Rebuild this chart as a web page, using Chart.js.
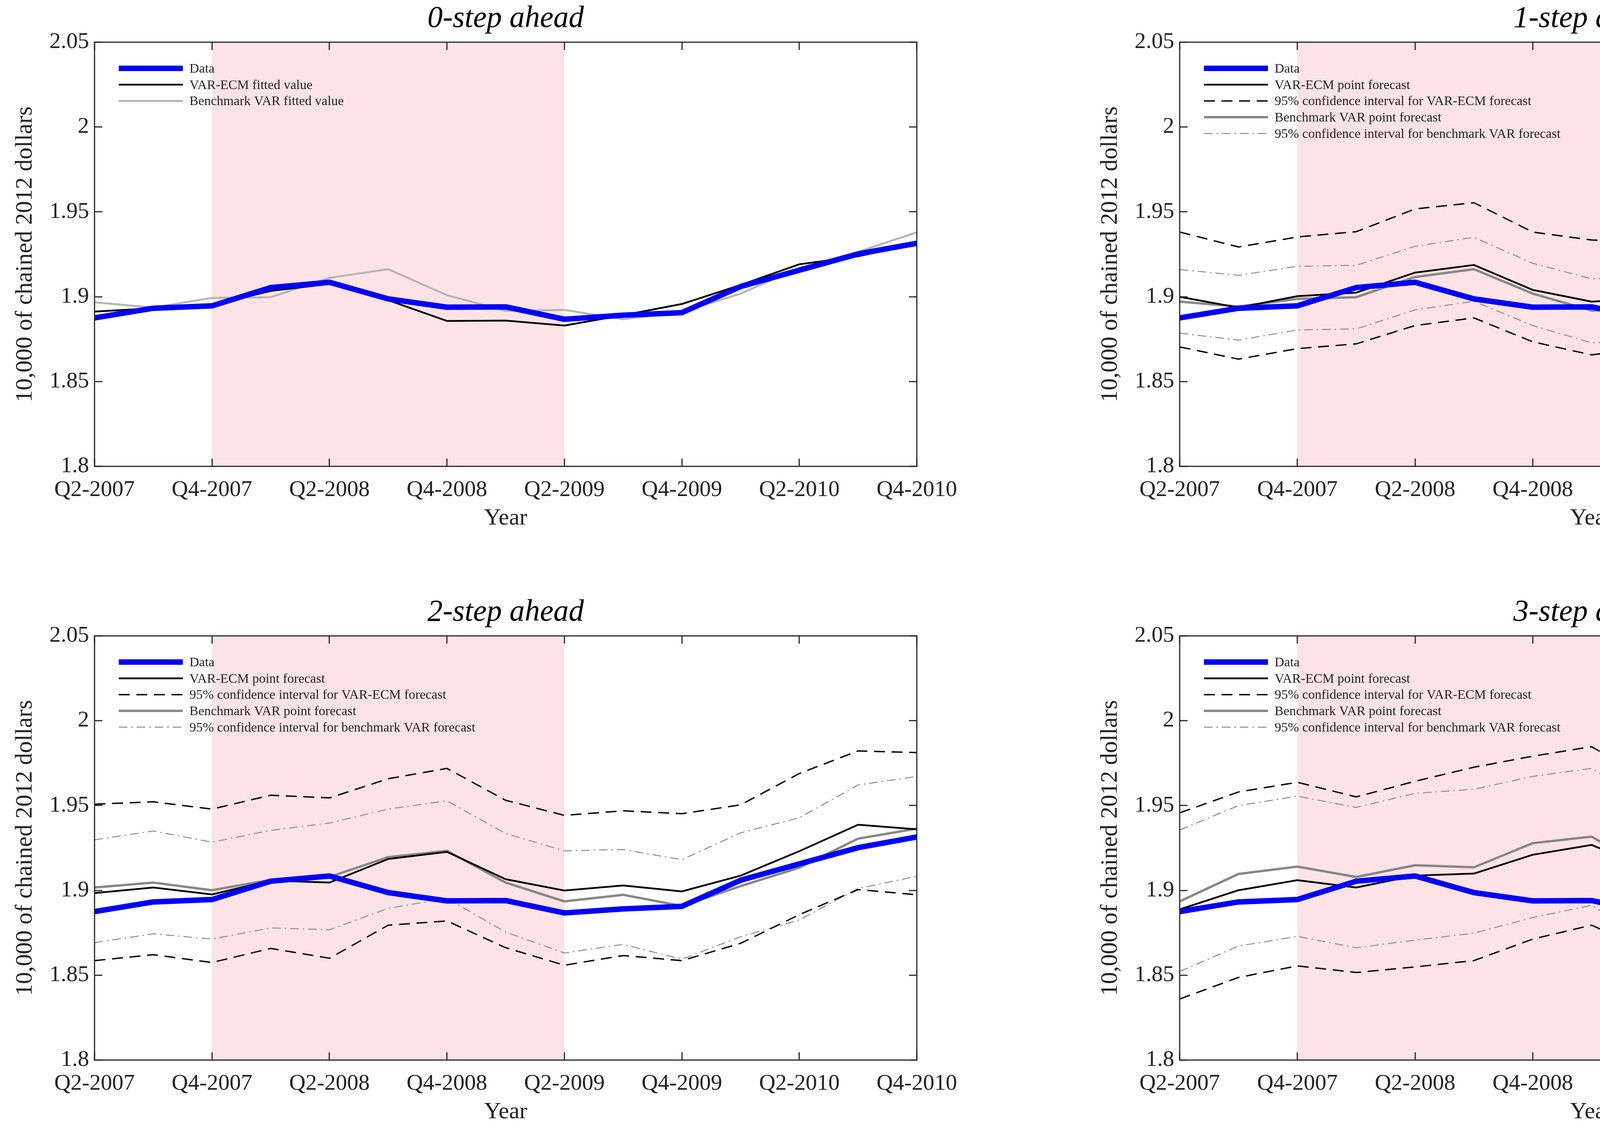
<!DOCTYPE html>
<html>
<head>
<meta charset="utf-8">
<script src="https://cdn.jsdelivr.net/npm/chart.js@4.4.1/dist/chart.umd.min.js"></script>
<style>
html,body{margin:0;padding:0;background:#fff;width:5273px;height:2911px;overflow:hidden}
.p{position:absolute}
</style>
</head>
<body>
<div class="p" id="w0" style="left:0px;top:0px;width:2636px;height:1391px"><canvas id="c0"></canvas></div>
<div class="p" id="w1" style="left:2778px;top:0px;width:2495px;height:1391px"><canvas id="c1"></canvas></div>
<div class="p" id="w2" style="left:0px;top:1520px;width:2636px;height:1391px"><canvas id="c2"></canvas></div>
<div class="p" id="w3" style="left:2778px;top:1520px;width:2495px;height:1391px"><canvas id="c3"></canvas></div>
<script>
// ---------- DATA ----------
const QUARTERS = ['Q2-2007','Q3-2007','Q4-2007','Q1-2008','Q2-2008','Q3-2008','Q4-2008','Q1-2009',
                  'Q2-2009','Q3-2009','Q4-2009','Q1-2010','Q2-2010','Q3-2010','Q4-2010'];
const TICK_LABELS = ['Q2-2007','Q4-2007','Q2-2008','Q4-2008','Q2-2009','Q4-2009','Q2-2010','Q4-2010'];
const RECESSION = ['Q4-2007','Q2-2009'];
const Y_MIN = 1.8, Y_MAX = 2.05, Y_STEP = 0.05;
const TITLES = ['0-step ahead','1-step ahead','2-step ahead','3-step ahead'];
const Y_TITLE = '10,000 of chained 2012 dollars';
const X_TITLE = 'Year';

const DATA = [1.8875,1.8932,1.8946,1.9054,1.9085,1.8987,1.8938,1.8940,1.8867,1.8891,1.8906,1.9060,1.9156,1.9252,1.9315];

// 0-step (fitted values)
const FIT_ECM = [1.8912,1.8932,1.8950,1.9034,1.9075,1.8979,1.8857,1.8859,1.8830,1.8891,1.8957,1.9069,1.9191,1.9238,1.9315];
const FIT_VAR = [1.8967,1.8936,1.8993,1.8997,1.9111,1.9162,1.9009,1.8916,1.8922,1.8867,1.8910,1.9018,1.9170,1.9264,1.9379];

// 1-step ahead
const H1_ECM    = [1.8999,1.8936,1.9003,1.9024,1.9142,1.9187,1.9040,1.8971,1.8991,1.8928,1.8985,1.9069,1.9248,1.9254,1.9355];
const H1_ECM_HI = [1.9381,1.9293,1.9352,1.9383,1.9517,1.9554,1.9381,1.9334,1.9324,1.9269,1.9320,1.9366,1.9580,1.9601,1.9688];
const H1_ECM_LO = [1.8704,1.8632,1.8694,1.8722,1.8830,1.8875,1.8734,1.8657,1.8700,1.8632,1.8683,1.8769,1.8963,1.8957,1.9054];
const H1_VAR    = [1.8971,1.8942,1.8987,1.8997,1.9116,1.9162,1.9018,1.8918,1.8928,1.8875,1.8938,1.9018,1.9170,1.9264,1.9379];
const H1_VAR_HI = [1.9160,1.9126,1.9179,1.9185,1.9297,1.9350,1.9197,1.9105,1.9126,1.9054,1.9126,1.9217,1.9364,1.9468,1.9574];
const H1_VAR_LO = [1.8785,1.8744,1.8804,1.8810,1.8922,1.8973,1.8830,1.8728,1.8744,1.8694,1.8759,1.8840,1.8983,1.9089,1.9191];

// 2-step ahead
const H2_ECM    = [1.8984,1.9017,1.8976,1.9058,1.9046,1.9185,1.9227,1.9066,1.8999,1.9029,1.8994,1.9087,1.9231,1.9387,1.9360];
const H2_ECM_HI = [1.9508,1.9522,1.9479,1.9561,1.9545,1.9658,1.9719,1.9531,1.9442,1.9469,1.9452,1.9504,1.9689,1.9822,1.9812];
const H2_ECM_LO = [1.8586,1.8621,1.8575,1.8658,1.8600,1.8795,1.8820,1.8662,1.8559,1.8616,1.8586,1.8688,1.8857,1.9005,1.8974];
const H2_VAR    = [1.9017,1.9046,1.9001,1.9062,1.9079,1.9196,1.9233,1.9046,1.8935,1.8974,1.8908,1.9025,1.9134,1.9305,1.9364];
const H2_VAR_HI = [1.9298,1.9350,1.9284,1.9354,1.9397,1.9479,1.9528,1.9335,1.9233,1.9241,1.9181,1.9339,1.9428,1.9621,1.9672];
const H2_VAR_LO = [1.8692,1.8744,1.8713,1.8779,1.8768,1.8894,1.8953,1.8754,1.8631,1.8682,1.8594,1.8727,1.8826,1.9011,1.9083];

// 3-step ahead
const H3_ECM    = [1.8888,1.9001,1.9060,1.9017,1.9087,1.9099,1.9210,1.9268,1.9124,1.9052,1.9109,1.9091,1.9216,1.9360,1.9500];
const H3_ECM_HI = [1.9457,1.9580,1.9637,1.9551,1.9643,1.9726,1.9791,1.9847,1.9648,1.9607,1.9631,1.9664,1.9732,1.9929,2.0048];
const H3_ECM_LO = [1.8360,1.8487,1.8555,1.8516,1.8549,1.8586,1.8713,1.8795,1.8641,1.8497,1.8569,1.8616,1.8668,1.8836,1.9005];
const H3_VAR    = [1.8935,1.9097,1.9140,1.9079,1.9148,1.9136,1.9278,1.9317,1.9114,1.8988,1.9036,1.8966,1.9128,1.9257,1.9401];
const H3_VAR_HI = [1.9356,1.9500,1.9555,1.9489,1.9572,1.9596,1.9672,1.9719,1.9514,1.9428,1.9432,1.9381,1.9576,1.9662,1.9847];
const H3_VAR_LO = [1.8522,1.8672,1.8729,1.8662,1.8707,1.8748,1.8840,1.8912,1.8697,1.8563,1.8625,1.8543,1.8692,1.8836,1.8980];

const LEG_FIT = ['Data','VAR-ECM fitted value','Benchmark VAR fitted value'];
const LEG_FC  = ['Data','VAR-ECM point forecast','95% confidence interval for VAR-ECM forecast',
                 'Benchmark VAR point forecast','95% confidence interval for benchmark VAR forecast'];

// ---------- STYLES ----------
const FONT = '"Liberation Serif", "Times New Roman", serif';
const S_DATA = {borderColor:'#0000ff', borderWidth:14};
const S_ECM  = {borderColor:'#000000', borderWidth:4.5};
const S_ECM_CI = {borderColor:'#000000', borderWidth:3.5, borderDash:[28,17]};
const S_VAR_FIT = {borderColor:'#b4b4b4', borderWidth:5};
const S_VAR  = {borderColor:'#878787', borderWidth:6};
const S_VAR_CI = {borderColor:'#8c8c8c', borderWidth:2.5, borderDash:[22,10,4,10]};

function ds(label, data, style, legend) {
  return Object.assign({label, data, fill:false, pointRadius:0, tension:0,
    borderJoinStyle:'round', borderCapStyle:'butt', showInLegendBox:legend}, style);
}

const panels = [
  [ds(LEG_FIT[0],DATA,S_DATA,true), ds(LEG_FIT[1],FIT_ECM,S_ECM,true), ds(LEG_FIT[2],FIT_VAR,S_VAR_FIT,true)],
  [ds(LEG_FC[0],DATA,S_DATA,true), ds(LEG_FC[1],H1_ECM,S_ECM,true), ds(LEG_FC[2],H1_ECM_HI,S_ECM_CI,true),
   ds(LEG_FC[3],H1_VAR,S_VAR,true), ds(LEG_FC[4],H1_VAR_HI,S_VAR_CI,true),
   ds(LEG_FC[2],H1_ECM_LO,S_ECM_CI,false), ds(LEG_FC[4],H1_VAR_LO,S_VAR_CI,false)],
  [ds(LEG_FC[0],DATA,S_DATA,true), ds(LEG_FC[1],H2_ECM,S_ECM,true), ds(LEG_FC[2],H2_ECM_HI,S_ECM_CI,true),
   ds(LEG_FC[3],H2_VAR,S_VAR,true), ds(LEG_FC[4],H2_VAR_HI,S_VAR_CI,true),
   ds(LEG_FC[2],H2_ECM_LO,S_ECM_CI,false), ds(LEG_FC[4],H2_VAR_LO,S_VAR_CI,false)],
  [ds(LEG_FC[0],DATA,S_DATA,true), ds(LEG_FC[1],H3_ECM,S_ECM,true), ds(LEG_FC[2],H3_ECM_HI,S_ECM_CI,true),
   ds(LEG_FC[3],H3_VAR,S_VAR,true), ds(LEG_FC[4],H3_VAR_HI,S_VAR_CI,true),
   ds(LEG_FC[2],H3_ECM_LO,S_ECM_CI,false), ds(LEG_FC[4],H3_VAR_LO,S_VAR_CI,false)]
];

// ---------- PLUGINS ----------
const shadePlugin = {
  id:'shade',
  beforeDatasetsDraw(chart) {
    const {ctx, chartArea:a, scales:{x}} = chart;
    const x0 = x.getPixelForValue(QUARTERS.indexOf(RECESSION[0]));
    const x1 = x.getPixelForValue(QUARTERS.indexOf(RECESSION[1]));
    ctx.save();
    ctx.fillStyle = 'rgb(253,227,229)';
    ctx.fillRect(x0, a.top, x1 - x0, a.bottom - a.top);
    ctx.restore();
  }
};

const framePlugin = {
  id:'frame',
  afterDraw(chart, args, opts) {
    const {ctx, chartArea:a, scales:{x, y}} = chart;
    ctx.save();
    ctx.strokeStyle = '#262626';
    ctx.lineWidth = 3;
    const TL = 20;
    ctx.beginPath();
    x.ticks.forEach((t, i) => {
      if (!TICK_LABELS.includes(QUARTERS[t.value])) return;
      const px = Math.round(x.getPixelForTick(i));
      ctx.moveTo(px, a.bottom); ctx.lineTo(px, a.bottom - TL);
      ctx.moveTo(px, a.top); ctx.lineTo(px, a.top + TL);
    });
    y.ticks.forEach((t, i) => {
      const py = Math.round(y.getPixelForTick(i));
      ctx.moveTo(a.left, py); ctx.lineTo(a.left + TL, py);
      ctx.moveTo(a.right, py); ctx.lineTo(a.right - TL, py);
    });
    ctx.stroke();
    ctx.strokeRect(a.left, a.top, a.right - a.left, a.bottom - a.top);

    // title
    ctx.fillStyle = '#000';
    ctx.font = 'italic 78px ' + FONT;
    ctx.textAlign = 'center';
    ctx.textBaseline = 'middle';
    ctx.fillText(opts.title, (a.left + a.right) / 2, a.top - 60);

    // legend
    ctx.font = '34px ' + FONT;
    ctx.textAlign = 'left';
    ctx.fillStyle = '#222';
    let row = 0;
    chart.data.datasets.forEach(d => {
      if (!d.showInLegendBox) return;
      const yy = a.top + 67 + row * 41.7;
      const lx = a.left + 62;
      ctx.save();
      ctx.strokeStyle = d.borderColor;
      ctx.lineWidth = d.borderWidth;
      ctx.setLineDash(d.borderDash || []);
      ctx.beginPath();
      ctx.moveTo(lx, yy); ctx.lineTo(lx + 164, yy);
      ctx.stroke();
      ctx.restore();
      ctx.fillText(d.label, lx + 181, yy + 2);
      row++;
    });
    ctx.restore();
  }
};

Chart.defaults.font.family = FONT;
Chart.defaults.color = '#222';

const layouts = [
  {right:289}, {right:144}, {right:289}, {right:144}
];

panels.forEach((datasets, k) => {
  new Chart(document.getElementById('c' + k), {
    type:'line',
    data:{labels:QUARTERS, datasets},
    plugins:[shadePlugin, framePlugin],
    options:{
      responsive:true, maintainAspectRatio:false, animation:false, devicePixelRatio:1,
      layout:{padding:{left:0, top:108, right:layouts[k].right, bottom:0}},
      plugins:{legend:{display:false}, tooltip:{enabled:false}, frame:{title:TITLES[k]}},
      scales:{
        x:{
          type:'category', offset:false,
          grid:{display:false, drawTicks:false}, border:{display:false},
          ticks:{autoSkip:false, maxRotation:0, minRotation:0, padding:26,
            font:{size:58}, color:'#222',
            callback(v){ const l = QUARTERS[v]; return TICK_LABELS.includes(l) ? l : ''; }},
          title:{display:true, text:X_TITLE, font:{size:60}, color:'#222', padding:{top:0,bottom:28}},
          afterFit(s){ s.height = 197; }
        },
        y:{
          min:Y_MIN, max:Y_MAX,
          grid:{display:false, drawTicks:false}, border:{display:false},
          ticks:{stepSize:Y_STEP, padding:14, font:{size:58}, color:'#222',
            callback(v){ return String(+v.toFixed(2)); }},
          title:{display:true, text:Y_TITLE, font:{size:61}, color:'#222', padding:{top:28,bottom:0}},
          afterFit(s){ s.width = 242; }
        }
      }
    }
  });
});
</script>
</body>
</html>
